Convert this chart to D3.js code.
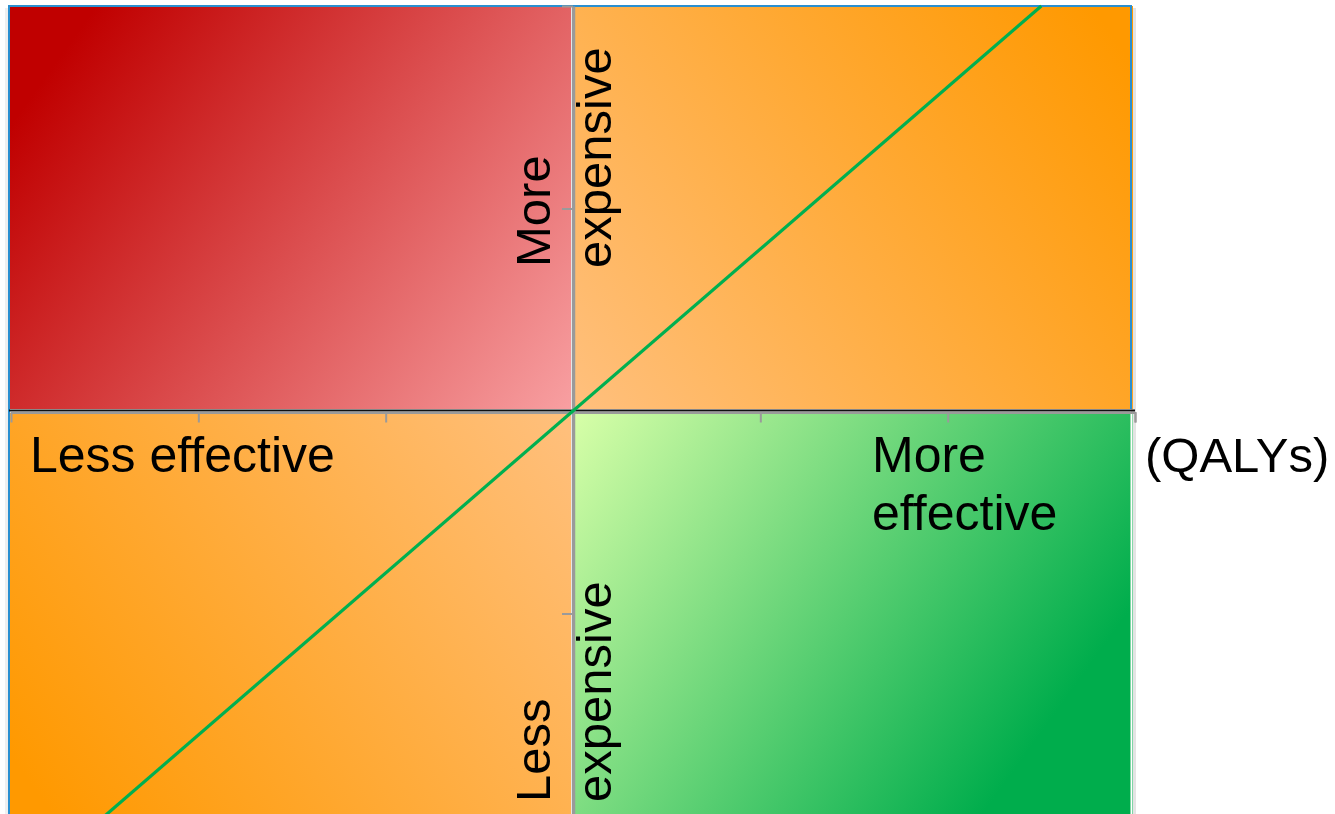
<!DOCTYPE html>
<html>
<head>
<meta charset="utf-8">
<script src="https://cdn.jsdelivr.net/npm/d3@7"></script>
<style>
  html, body { margin: 0; padding: 0; background: #fff; }
  svg { display: block; }
  text { font-family: "Liberation Sans", Arial, sans-serif; fill: #000; }
</style>
</head>
<body>
<svg id="chart" width="1335" height="814"></svg>
<script>
// ---- data ----
const quadrantNames = ["dominated", "trade-off upper", "trade-off lower", "dominant"];
const quadX0 = [-3, 0, -3, 0];
const quadX1 = [0, 3, 0, 3];
const quadY0 = [0, 0, -2, -2];
const quadY1 = [2, 2, 0, 0];
const xTickValues = [-2, -1, 1, 2, 3];
const yTickValues = [-1, 1, 2];
const thresholdX = [-2.5, 2.5];
const thresholdY = [-2, 2];
const xAxisTitle = "(QALYs)";

// ---- styles ----
const gradStops = [
  [["0", "#c00000"], ["0.1", "#c00000"], ["1", "#f8a0a2"]],
  [["0", "#ffc07e"], ["0.95", "#ff9900"], ["1", "#ff9900"]],
  [["0", "#ffc07e"], ["0.95", "#ff9900"], ["1", "#ff9900"]],
  [["0", "#d8ffa8"], ["0.82", "#00ad4c"], ["1", "#00ad4c"]]
];

const svg = d3.select("#chart");
const x = d3.scaleLinear().domain([-3, 3]).range([11, 1135]);
const y = d3.scaleLinear().domain([-2, 2]).range([816, 6]);

const defs = svg.append("defs");
const gradDir = [
  { from: [-3, 2], to: [0, 0] },
  { from: [0, 0], to: [3, 2] },
  { from: [0, 0], to: [-3, -2] },
  { from: [0, 0], to: [3, -2] }
];
quadrantNames.forEach((n, i) => {
  const g = defs.append("linearGradient")
    .attr("id", "g" + i)
    .attr("gradientUnits", "userSpaceOnUse")
    .attr("x1", x(gradDir[i].from[0])).attr("y1", y(gradDir[i].from[1]))
    .attr("x2", x(gradDir[i].to[0])).attr("y2", y(gradDir[i].to[1]));
  gradStops[i].forEach(s => g.append("stop").attr("offset", s[0]).attr("stop-color", s[1]));
});

// shadows
svg.append("rect").attr("x", 1131).attr("y", 8).attr("width", 5).attr("height", 806)
  .attr("fill", "#d8d8d8").attr("opacity", 0.7);
svg.append("rect").attr("x", 5).attr("y", 8).attr("width", 4).attr("height", 806)
  .attr("fill", "#e8e8e8").attr("opacity", 0.7);

// quadrants
const gap = 2;
svg.selectAll("rect.quad").data(quadrantNames).enter().append("rect")
  .attr("class", "quad")
  .attr("x", (d, i) => x(quadX0[i]) + (quadX0[i] === 0 ? gap : -2))
  .attr("y", (d, i) => y(quadY1[i]) + (quadY1[i] === 0 ? gap : 0))
  .attr("width", (d, i) => x(quadX1[i]) - x(quadX0[i]) - gap - (quadX1[i] === 0 ? 0 : 2) + (quadX0[i] === 0 ? 0 : 2))
  .attr("height", (d, i) => y(quadY0[i]) - y(quadY1[i]) - gap)
  .attr("fill", (d, i) => "url(#g" + i + ")");

// blue outline on outer edges
const bx0 = x(-3) - 2, bx1 = x(3) - 4;
svg.append("path")
  .attr("d", `M${bx0},814 L${bx0},${y(2)} L${bx1},${y(2)} L${bx1},${y(0) - 2}`)
  .attr("fill", "none").attr("stroke", "#2a8fd0").attr("stroke-width", 2);
svg.append("line").attr("x1", bx1 + 0.5).attr("x2", bx1 + 0.5).attr("y1", y(0) + 2).attr("y2", 814)
  .attr("stroke", "#ffffff").attr("stroke-width", 2);

// x axis
const xAxis = d3.axisBottom(x).tickValues(xTickValues).tickSize(10).tickFormat("").tickSizeOuter(10);
const gx = svg.append("g").attr("transform", `translate(0,${y(0) + 1.5})`).call(xAxis);
gx.select(".domain").attr("stroke", "#9a9a9a").attr("stroke-width", 2);
gx.selectAll(".tick line").attr("stroke", "#9a9a9a").attr("stroke-width", 2);
svg.append("line").attr("x1", x(-3) - 2).attr("x2", x(3)).attr("y1", y(0) - 0.5).attr("y2", y(0) - 0.5)
  .attr("stroke", "#111").attr("stroke-width", 2);

// y axis
const yAxis = d3.axisLeft(y).tickValues(yTickValues).tickSize(11).tickFormat("").tickSizeOuter(0);
const gy = svg.append("g").attr("transform", `translate(${x(0)},0)`).call(yAxis);
gy.select(".domain").attr("stroke", "#9a9a9a").attr("stroke-width", 3.5);
gy.selectAll(".tick line").attr("stroke", "#9a9a9a").attr("stroke-width", 2);

// threshold line
svg.append("path")
  .datum(thresholdX.map((v, i) => [v, thresholdY[i]]))
  .attr("d", d3.line().x(d => x(d[0])).y(d => y(d[1])))
  .attr("stroke", "#00b050").attr("stroke-width", 3.2).attr("fill", "none");

// labels
const fs = 50;
svg.append("text").attr("x", 30).attr("y", 472).attr("font-size", fs).text("Less effective");
svg.append("text").attr("x", 872).attr("y", 472).attr("font-size", fs).text("More");
svg.append("text").attr("x", 872).attr("y", 530).attr("font-size", fs).text("effective");
svg.append("text").attr("x", 1145).attr("y", 472).attr("font-size", 49).text(xAxisTitle);

const vtext = [["More", 550, 267], ["expensive", 611, 268], ["Less", 550, 802], ["expensive", 611, 802]];
vtext.forEach(t => {
  svg.append("text").attr("transform", `translate(${t[1]},${t[2]}) rotate(-90)`)
    .attr("font-size", 49).text(t[0]);
});
</script>
</body>
</html>
